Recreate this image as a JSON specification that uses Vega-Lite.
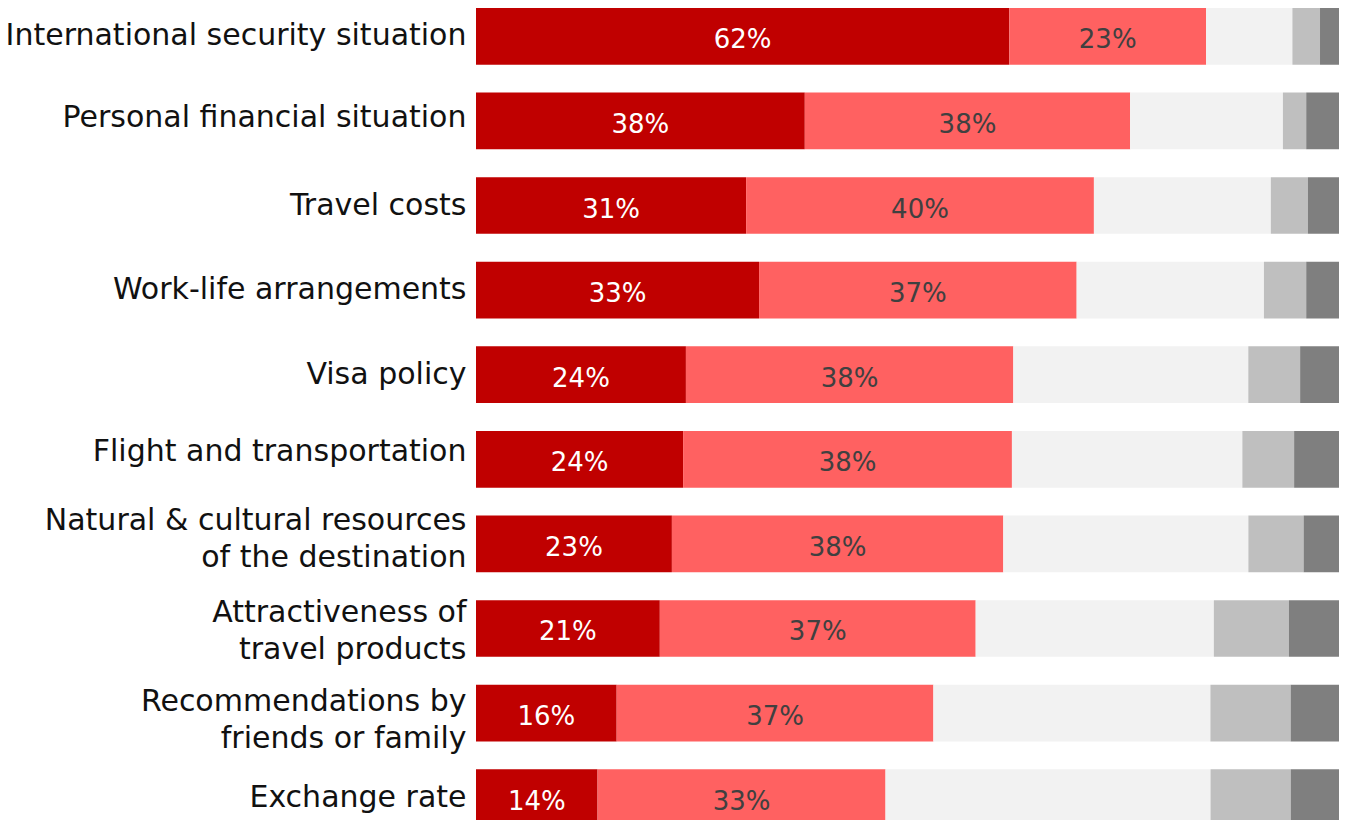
{
  "$schema": "https://vega.github.io/schema/vega-lite/v6.json",
  "autosize": {"type": "none"},
  "width": 863,
  "height": 818,
  "padding": {"left": 476, "top": 8, "right": 8, "bottom": 0},
  "background": "white",
  "config": {"view": {"stroke": null}},
  "data": {"values": [
    {"item": "International security situation", "cat": "c1", "o": 1, "v": 0.618},
    {"item": "International security situation", "cat": "c2", "o": 2, "v": 0.228},
    {"item": "International security situation", "cat": "c3", "o": 3, "v": 0.100},
    {"item": "International security situation", "cat": "c4", "o": 4, "v": 0.032},
    {"item": "International security situation", "cat": "c5", "o": 5, "v": 0.022},
    {"item": "Personal financial situation", "cat": "c1", "o": 1, "v": 0.381},
    {"item": "Personal financial situation", "cat": "c2", "o": 2, "v": 0.377},
    {"item": "Personal financial situation", "cat": "c3", "o": 3, "v": 0.177},
    {"item": "Personal financial situation", "cat": "c4", "o": 4, "v": 0.027},
    {"item": "Personal financial situation", "cat": "c5", "o": 5, "v": 0.038},
    {"item": "Travel costs", "cat": "c1", "o": 1, "v": 0.313},
    {"item": "Travel costs", "cat": "c2", "o": 2, "v": 0.403},
    {"item": "Travel costs", "cat": "c3", "o": 3, "v": 0.205},
    {"item": "Travel costs", "cat": "c4", "o": 4, "v": 0.043},
    {"item": "Travel costs", "cat": "c5", "o": 5, "v": 0.036},
    {"item": "Work-life arrangements", "cat": "c1", "o": 1, "v": 0.328},
    {"item": "Work-life arrangements", "cat": "c2", "o": 2, "v": 0.368},
    {"item": "Work-life arrangements", "cat": "c3", "o": 3, "v": 0.217},
    {"item": "Work-life arrangements", "cat": "c4", "o": 4, "v": 0.049},
    {"item": "Work-life arrangements", "cat": "c5", "o": 5, "v": 0.038},
    {"item": "Visa policy", "cat": "c1", "o": 1, "v": 0.243},
    {"item": "Visa policy", "cat": "c2", "o": 2, "v": 0.379},
    {"item": "Visa policy", "cat": "c3", "o": 3, "v": 0.272},
    {"item": "Visa policy", "cat": "c4", "o": 4, "v": 0.060},
    {"item": "Visa policy", "cat": "c5", "o": 5, "v": 0.045},
    {"item": "Flight and transportation", "cat": "c1", "o": 1, "v": 0.240},
    {"item": "Flight and transportation", "cat": "c2", "o": 2, "v": 0.381},
    {"item": "Flight and transportation", "cat": "c3", "o": 3, "v": 0.267},
    {"item": "Flight and transportation", "cat": "c4", "o": 4, "v": 0.060},
    {"item": "Flight and transportation", "cat": "c5", "o": 5, "v": 0.052},
    {"item": "Natural & cultural resources|of the destination", "cat": "c1", "o": 1, "v": 0.227},
    {"item": "Natural & cultural resources|of the destination", "cat": "c2", "o": 2, "v": 0.384},
    {"item": "Natural & cultural resources|of the destination", "cat": "c3", "o": 3, "v": 0.284},
    {"item": "Natural & cultural resources|of the destination", "cat": "c4", "o": 4, "v": 0.064},
    {"item": "Natural & cultural resources|of the destination", "cat": "c5", "o": 5, "v": 0.041},
    {"item": "Attractiveness of|travel products", "cat": "c1", "o": 1, "v": 0.213},
    {"item": "Attractiveness of|travel products", "cat": "c2", "o": 2, "v": 0.366},
    {"item": "Attractiveness of|travel products", "cat": "c3", "o": 3, "v": 0.276},
    {"item": "Attractiveness of|travel products", "cat": "c4", "o": 4, "v": 0.087},
    {"item": "Attractiveness of|travel products", "cat": "c5", "o": 5, "v": 0.058},
    {"item": "Recommendations by|friends or family", "cat": "c1", "o": 1, "v": 0.163},
    {"item": "Recommendations by|friends or family", "cat": "c2", "o": 2, "v": 0.367},
    {"item": "Recommendations by|friends or family", "cat": "c3", "o": 3, "v": 0.321},
    {"item": "Recommendations by|friends or family", "cat": "c4", "o": 4, "v": 0.093},
    {"item": "Recommendations by|friends or family", "cat": "c5", "o": 5, "v": 0.056},
    {"item": "Exchange rate", "cat": "c1", "o": 1, "v": 0.141},
    {"item": "Exchange rate", "cat": "c2", "o": 2, "v": 0.334},
    {"item": "Exchange rate", "cat": "c3", "o": 3, "v": 0.377},
    {"item": "Exchange rate", "cat": "c4", "o": 4, "v": 0.093},
    {"item": "Exchange rate", "cat": "c5", "o": 5, "v": 0.056}
  ]},
  "transform": [
    {"stack": "v", "groupby": ["item"], "sort": [{"field": "o"}], "offset": "normalize", "as": ["x0", "x1"]},
    {"calculate": "(datum.x0 + datum.x1) / 2", "as": "xm"}
  ],
  "encoding": {
    "y": {
      "field": "item", "type": "nominal", "sort": null,
      "scale": {"paddingInner": 0.33, "paddingOuter": 0},
      "axis": {
        "title": null, "domain": false, "ticks": false,
        "labelExpr": "split(datum.label, '|')",
        "labelFont": "DejaVu Sans", "labelFontSize": 30, "labelColor": "#111111",
        "labelPadding": 10, "labelLineHeight": 37, "labelLimit": 0,
        "labelOffset": {
          "condition": [
            {"test": "indexof(datum.value, 'Natural') === 0", "value": -23},
            {"test": "indexof(datum.value, 'Attractiveness') === 0", "value": -15},
            {"test": "indexof(datum.value, 'Recommendations') === 0", "value": -11},
            {"test": "indexof(datum.value, 'Flight') === 0", "value": -7},
            {"test": "indexof(datum.value, 'Personal') === 0", "value": -3}
          ],
          "value": 0
        }
      }
    }
  },
  "layer": [
    {
      "mark": {"type": "bar"},
      "encoding": {
        "x": {"field": "x0", "type": "quantitative", "scale": {"domain": [0, 1], "nice": false, "zero": false}, "axis": null},
        "x2": {"field": "x1"},
        "color": {
          "field": "cat", "type": "nominal", "legend": null,
          "scale": {"domain": ["c1", "c2", "c3", "c4", "c5"], "range": ["#C00000", "#FF6161", "#F2F2F2", "#BFBFBF", "#7F7F7F"]}
        }
      }
    },
    {
      "transform": [{"filter": "datum.o <= 2"}],
      "mark": {"type": "text", "font": "DejaVu Sans", "fontSize": 26, "baseline": "middle", "dy": 4},
      "encoding": {
        "x": {"field": "xm", "type": "quantitative"},
        "text": {"field": "v", "type": "quantitative", "format": ".0%"},
        "color": {
          "field": "cat", "type": "nominal", "legend": null,
          "scale": {"domain": ["c1", "c2"], "range": ["#FFFFFF", "#404040"]}
        }
      }
    }
  ],
  "resolve": {"scale": {"color": "independent"}}
}
